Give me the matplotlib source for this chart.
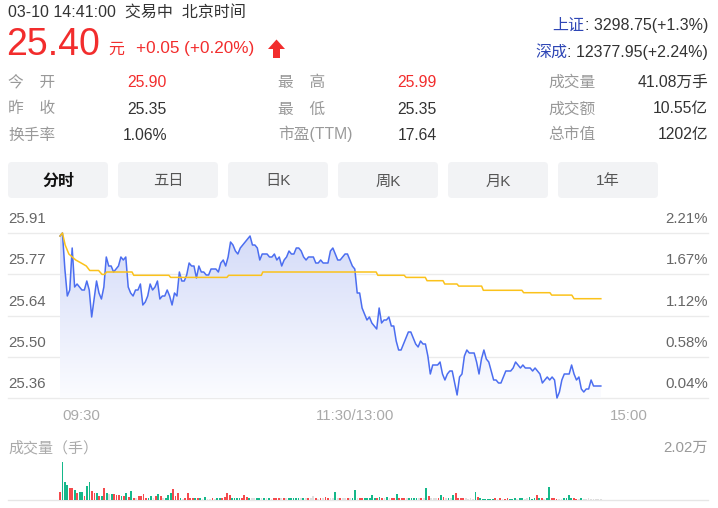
import numpy as np
import matplotlib
matplotlib.use('Agg')
import matplotlib.pyplot as plt
from matplotlib.patches import FancyBboxPatch, Polygon
from matplotlib.colors import LinearSegmentedColormap

plt.rcParams['font.family'] = ['Liberation Sans', 'Noto Sans CJK SC', 'DejaVu Sans']

# ---------------- data ----------------
prev_close = 25.35
price = [25.90, 25.91, 25.79, 25.70, 25.72, 25.86, 25.73, 25.74, 25.73, 25.72,
         25.72, 25.75, 25.72, 25.63, 25.69, 25.75, 25.71, 25.69, 25.73, 25.83,
         25.80, 25.80, 25.78, 25.79, 25.80, 25.83, 25.82, 25.83, 25.73, 25.71,
         25.70, 25.72, 25.72, 25.74, 25.67, 25.68, 25.70, 25.74, 25.72, 25.73,
         25.75, 25.69, 25.70, 25.70, 25.72, 25.70, 25.67, 25.71, 25.70, 25.78,
         25.75, 25.75, 25.77, 25.81, 25.80, 25.80, 25.76, 25.80, 25.78, 25.78,
         25.77, 25.77, 25.79, 25.79, 25.79, 25.78, 25.81, 25.82, 25.80, 25.83,
         25.88, 25.87, 25.85, 25.84, 25.86, 25.87, 25.88, 25.89, 25.90, 25.87,
         25.87, 25.86, 25.82, 25.84, 25.84, 25.84, 25.83, 25.83, 25.84, 25.82,
         25.83, 25.80, 25.82, 25.83, 25.85, 25.84, 25.84, 25.86, 25.86, 25.85,
         25.83, 25.82, 25.83, 25.83, 25.83, 25.81, 25.81, 25.82, 25.81, 25.81,
         25.81, 25.85, 25.86, 25.84, 25.82, 25.82, 25.83, 25.84, 25.84, 25.82,
         25.80, 25.79, 25.71, 25.71, 25.66, 25.64, 25.62, 25.63, 25.61, 25.60,
         25.59, 25.66, 25.61, 25.62, 25.62, 25.63, 25.60, 25.60, 25.55, 25.52,
         25.52, 25.54, 25.56, 25.58, 25.58, 25.56, 25.54, 25.53, 25.55, 25.54,
         25.54, 25.50, 25.44, 25.47, 25.47, 25.47, 25.48, 25.44, 25.42, 25.44,
         25.45, 25.45, 25.41, 25.37, 25.43, 25.44, 25.50, 25.52, 25.51, 25.51,
         25.51, 25.48, 25.44, 25.49, 25.52, 25.49, 25.48, 25.45, 25.42, 25.42,
         25.41, 25.41, 25.43, 25.45, 25.45, 25.45, 25.46, 25.48, 25.47, 25.46,
         25.47, 25.46, 25.46, 25.46, 25.45, 25.46, 25.45, 25.44, 25.41, 25.42,
         25.43, 25.42, 25.43, 25.42, 25.36, 25.38, 25.42, 25.44, 25.44, 25.44,
         25.47, 25.44, 25.42, 25.43, 25.39, 25.38, 25.39, 25.39, 25.42, 25.40,
         25.40, 25.40, 25.40]
last_minute = 220  # 14:40 -> last plotted minute

avg_time = [0, 1, 2.1, 3.6, 5, 6.4, 8.6, 10.7, 12.1, 15.7, 17.1, 18.1, 19, 29.3, 30,
            44.3, 45, 67.9, 68.6, 81.9, 82.5, 128.6, 129.3, 140, 140.8, 148.6, 149.3,
            155.8, 156.5, 161.5, 162.2, 171.5, 172.2, 187.9, 188.6, 199.3, 200, 208.2,
            209.1, 220]
avg_price = [25.900, 25.910, 25.870, 25.840, 25.830, 25.820, 25.810, 25.800, 25.785,
             25.785, 25.772, 25.772, 25.780, 25.780, 25.769, 25.769, 25.762, 25.762,
             25.769, 25.769, 25.780, 25.780, 25.769, 25.769, 25.762, 25.762, 25.751,
             25.751, 25.740, 25.740, 25.733, 25.733, 25.719, 25.719, 25.711, 25.711,
             25.703, 25.703, 25.691, 25.691]

volume = [4400, 20200, 9700, 8000, 6200, 6200, 5300, 3500, 4400, 4400,
          2100, 7400, 9200, 4800, 3900, 3500, 2100, 2100, 6200, 3500,
          3000, 3000, 3000, 2600, 2500, 2100, 2100, 3500, 1800, 4800,
          1300, 900, 2100, 2100, 3000, 1300, 900, 2100, 800, 2100,
          3000, 2100, 800, 1300, 2600, 3500, 5700, 2100, 3900, 900,
          700, 900, 3500, 1300, 1300, 1300, 1300,
          1300, 700, 1800, 700, 700, 900, 700, 900, 1300, 1300,
          1800, 3900, 2600, 1300, 1300, 1300, 1300, 1300, 2600, 1800,
          1300, 900, 900, 900, 1300, 900, 900, 900, 1300, 700,
          900, 1300, 1300, 900, 1300, 900, 900, 900, 900, 900,
          1300, 900, 1300, 900, 900, 900, 2100, 900, 700, 900,
          900, 1800, 1300, 900, 900, 4100, 900, 900, 900, 900,
          900, 900, 1300, 5300, 900, 900,
          900, 900, 1300, 900, 2650, 1300, 900, 1800, 900, 900,
          1800, 900, 900, 900, 3000, 900, 1300, 900, 900, 1300,
          1300, 900, 1300, 900, 900, 900, 6200, 2100, 900, 900,
          900, 900, 2650, 1800, 900, 900, 900, 2650, 3500, 1300,
          1300, 900, 900, 700, 900, 700, 4400, 1800, 900, 700,
          700, 700, 700, 700, 900, 700, 900, 700, 700, 900,
          700, 700, 900, 700, 1200, 1200, 700, 900, 1800, 700,
          900, 2650, 1200, 900, 700, 900, 6700, 1200, 900, 700,
          700, 700, 900, 900, 2650, 900, 900, 700, 700, 1200,
          700, 700, 900, 700, 700, 700, 700, 700]
vol_dir = ("rgggrrgrgg" "rggrrgrgrg" "xgrrrgrgrg" "rxrrrrggxr" "grxgggrrrg" "xrrrrgr"
           "gxgxxrxggr" "rrrggggrrr" "gxxggxgxgx" "rrrxrxgggg" "gxgxrxxrxr" "xrrxxgxrxx" "rxggxr"
           "rgggggrgrx" "gxrrgrrrxg" "gggxrxgrxx" "xrgrxgxgrr" "rrxxxxgrgg" "ggggrxrxrr"
           "gggxggxxgg" "grgrxggrrr" "xxggggrrxg" "xxxxxxxx")

y_low, y_high = 25.36, 25.91
price_tick_labels = ['25.91', '25.77', '25.64', '25.50', '25.36']
pct_tick_labels = ['2.21%', '1.67%', '1.12%', '0.58%', '0.04%']
time_labels = ['09:30', '11:30/13:00', '15:00']
time_pos = [0, 120, 240]
vol_max = 20200
vol_max_label = '2.02万'

tabs = ['分时', '五日', '日K', '周K', '月K', '1年']
stat_labels = [['今　开', '昨　收', '换手率'],
               ['最　高', '最　低', '市盈(TTM)'],
               ['成交量', '成交额', '总市值']]
stat_values = [['25.90', '25.35', '1.06%'],
               ['25.99', '25.35', '17.64'],
               ['41.08万手', '10.55亿', '1202亿']]
stat_red = [[True, False, False], [True, False, False], [False, False, False]]

# ---------------- style ----------------
W, H = 718, 508
RED = '#f22d2d'
DARK = '#333333'
GRAY = '#999999'
BLUE_LINK = '#2e46b5'
LINE_BLUE = '#4c6ef0'
LINE_YEL = '#fbc21b'
VCOL = {'r': '#f54a4d', 'g': '#15b88a', 'x': '#dedede'}

fig = plt.figure(figsize=(W / 100, H / 100), dpi=100)
fig.patch.set_facecolor('white')

bg = fig.add_axes([0, 0, 1, 1])
bg.set_xlim(0, W)
bg.set_ylim(H, 0)
bg.axis('off')

# header
bg.text(8, 17.5, '03-10 14:41:00  交易中  北京时间', fontsize=11.5, color=DARK, va='baseline')
bg.text(6, 55, '25.40', fontsize=27, color=RED, va='baseline')
bg.text(108, 53.5, '元', fontsize=11.5, color=RED, va='baseline')
bg.text(136, 53.5, '+0.05 (+0.20%)', fontsize=12.3, color=RED, va='baseline')
bg.add_patch(Polygon([(268, 49), (276.5, 39.5), (285, 49), (280, 49), (280, 58),
                      (273, 58), (273, 49)], closed=True, fc=RED, ec='none'))

fig.canvas.draw()
rend = fig.canvas.get_renderer()


def pair(y, blue, rest):
    t2 = bg.text(708, y, rest, ha='right', va='baseline', fontsize=11.5, color=DARK)
    bb = t2.get_window_extent(renderer=rend)
    bg.text(bb.x0, y, blue, ha='right', va='baseline', fontsize=11.5, color=BLUE_LINK)


pair(30, '上证', ': 3298.75(+1.3%)')
pair(56.5, '深成', ': 12377.95(+2.24%)')

row_y = [87, 113.5, 139.5]
lab_x = [8, 278, 548]
val_x = [167, 437, 708]
for c in range(3):
    for r in range(3):
        bg.text(lab_x[c], row_y[r], stat_labels[c][r], fontsize=11.3, color=GRAY, va='baseline')
        bg.text(val_x[c], row_y[r], stat_values[c][r], fontsize=11.3,
                color=RED if stat_red[c][r] else DARK, va='baseline', ha='right')

# tabs
for i, lbl in enumerate(tabs):
    x0 = 8 + i * 110
    bg.add_patch(FancyBboxPatch((x0, 162), 100, 36, boxstyle='round,pad=0,rounding_size=4',
                                fc='#f2f3f5', ec='none'))
    if i == 0:
        bg.text(x0 + 50, 185.5, lbl, ha='center', va='baseline', fontsize=11.5,
                color='#111111', fontweight='bold')
    else:
        bg.text(x0 + 50, 185.5, lbl, ha='center', va='baseline', fontsize=11,
                color='#555555')

# ---------------- price chart ----------------
top_px, bot_px = 233, 398
ax = fig.add_axes([8 / W, 1 - bot_px / H, 700 / W, (bot_px - top_px) / H])
xl = ((8 - 60) * 240 / 590, (708 - 60) * 240 / 590)

t = np.linspace(0, last_minute, len(price))
fill = ax.fill_between(t, price, y_low, facecolor='none', edgecolor='none')
path = fill.get_paths()[0]
cm = LinearSegmentedColormap.from_list('g', ['#fbfcff', '#d4dbf8'])
img = ax.imshow(np.linspace(0, 1, 256).reshape(-1, 1), cmap=cm, aspect='auto',
                origin='lower', extent=[0, last_minute, y_low, y_high], zorder=1)
img.set_clip_path(path, transform=ax.transData)

levels = np.linspace(y_high, y_low, 5)
for i, v in enumerate(levels):
    ax.axhline(v, color='#ebebeb', lw=1, zorder=0.5, clip_on=False)
    ax.annotate(price_tick_labels[i], xy=(0, v), xycoords=('axes fraction', 'data'),
                xytext=(0, 7.2), textcoords='offset points', ha='left', va='baseline',
                fontsize=10.8, color='#666666', annotation_clip=False)
    ax.annotate(pct_tick_labels[i], xy=(1, v), xycoords=('axes fraction', 'data'),
                xytext=(0, 7.2), textcoords='offset points', ha='right', va='baseline',
                fontsize=10.8, color='#666666', annotation_clip=False)

ax.plot(t, price, color=LINE_BLUE, lw=1.1, zorder=3, clip_on=False)
ax.plot(avg_time, avg_price, color=LINE_YEL, lw=1.1, zorder=4, clip_on=False)

for lbl, m in zip(time_labels, time_pos):
    ha = 'left' if m == 0 else ('right' if m == 240 else 'center')
    ax.annotate(lbl, xy=(m, 0), xycoords=('data', 'axes fraction'), xytext=(1.5 if m == 0 else (-1.5 if m == 240 else 0), -15.8),
                textcoords='offset points', ha=ha, va='baseline', fontsize=10.8,
                color='#aaaaaa', annotation_clip=False)

ax.set_xlim(*xl)
ax.set_ylim(y_low, y_high)
ax.axis('off')

# ---------------- volume ----------------
bg.text(8, 452, '成交量（手）', fontsize=10.8, color='#aaaaaa', va='baseline')
bg.text(708, 452, vol_max_label, fontsize=10.8, color='#999999', va='baseline', ha='right')

vtop = 461.5
vax = fig.add_axes([8 / W, 1 - 500 / H, 700 / W, (500 - vtop) / H])
n = min(len(volume), len(vol_dir))
vax.axhline(0, color='#e6e6e6', lw=1, zorder=0, clip_on=False)
vax.bar(np.arange(n), volume[:n], width=0.72, color=[VCOL[c] for c in vol_dir[:n]],
        linewidth=0, zorder=2)
vax.set_xlim(*xl)
vax.set_ylim(0, vol_max)
vax.axis('off')

fig.savefig('out.png', dpi=100, facecolor='white')
